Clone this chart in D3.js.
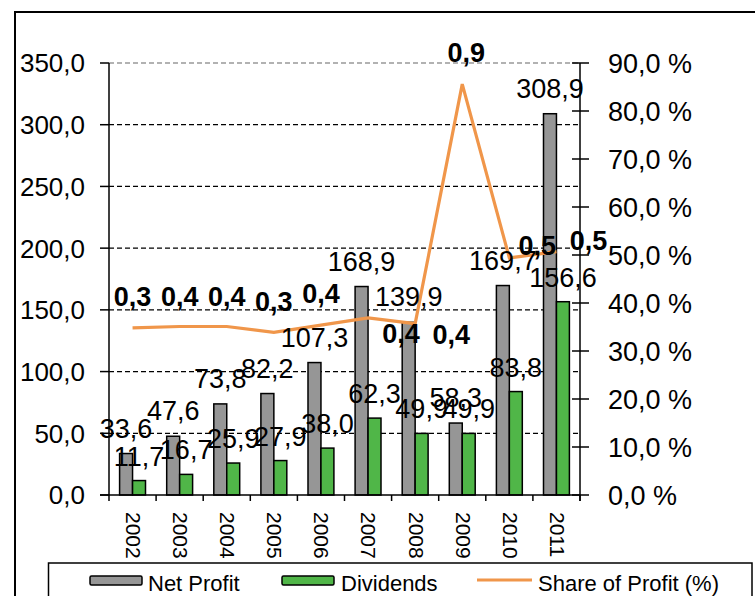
<!DOCTYPE html>
<html>
<head>
<meta charset="utf-8">
<script src="https://cdn.jsdelivr.net/npm/d3@7/dist/d3.min.js"></script>
<style>
  html, body { margin: 0; padding: 0; background: #fff; }
  svg { display: block; }
  text { font-family: "Liberation Sans", Arial, sans-serif; fill: #000; }
</style>
</head>
<body>
<svg id="chart" width="755" height="596"></svg>
<script>
// Annual figures
const years = ["2002", "2003", "2004", "2005", "2006", "2007", "2008", "2009", "2010", "2011"];
const netProfit = [33.6, 47.6, 73.8, 82.2, 107.3, 168.9, 139.9, 58.3, 169.7, 308.9];
const dividends = [11.7, 16.7, 25.9, 27.9, 38.0, 62.3, 49.9, 49.9, 83.8, 156.6];
const shareOfProfit = [0.348, 0.351, 0.351, 0.339, 0.354, 0.369, 0.357, 0.856, 0.494, 0.507];
const leftTicks = [0, 50, 100, 150, 200, 250, 300, 350];
const rightTicks = [0, 0.1, 0.2, 0.3, 0.4, 0.5, 0.6, 0.7, 0.8, 0.9];
const seriesNames = ["Net Profit", "Dividends", "Share of Profit (%)"];

// Nudges for the share labels (dx, dy from the point)
const shareLabelNudge = [
  [0, -22], [0, -21], [0, -21], [0, -21], [0, -22],
  [33, 25], [36, 20], [4, -22], [28, -3], [32, -2]
];

const colors = { net: "#969696", div: "#50b648", share: "#f0964a" };

const locale = d3.formatLocale({ decimal: ",", thousands: " ", grouping: [3], currency: ["", ""] });
const f1 = locale.format(".1f");

const svg = d3.select("#chart");
const plot = { left: 109, right: 580, top: 63, bottom: 495 };

const x0 = d3.scaleBand().domain(years).range([plot.left, plot.right])
  .paddingInner(0.45).paddingOuter(0.225);
const x1 = d3.scaleBand().domain(["net", "div"]).range([0, x0.bandwidth()]);
const yL = d3.scaleLinear().domain([0, 350]).range([plot.bottom, plot.top]);
const yR = d3.scaleLinear().domain([0, 0.9]).range([plot.bottom, plot.top]);
const cx = d => x0(d) + x0.bandwidth() / 2;

// Outer frame
svg.append("path").attr("d", "M15,596 L15,12 L755,12")
  .attr("fill", "none").attr("stroke", "#000").attr("stroke-width", 2);

// Gridlines
svg.append("g").selectAll("line").data(leftTicks.filter(t => t > 0)).join("line")
  .attr("x1", plot.left).attr("x2", plot.right)
  .attr("y1", d => yL(d)).attr("y2", d => yL(d))
  .attr("stroke", d => d === 350 ? "#999" : "#000")
  .attr("stroke-width", 1.3)
  .attr("stroke-dasharray", "5,3");

// Bars
const groups = svg.append("g").selectAll("g").data(years).join("g")
  .attr("transform", d => `translate(${x0(d)},0)`);
groups.append("rect")
  .attr("x", x1("net")).attr("width", x1.bandwidth())
  .attr("y", (d, i) => yL(netProfit[i])).attr("height", (d, i) => yL(0) - yL(netProfit[i]))
  .attr("fill", colors.net).attr("stroke", "#000").attr("stroke-width", 1.5);
groups.append("rect")
  .attr("x", x1("div")).attr("width", x1.bandwidth())
  .attr("y", (d, i) => yL(dividends[i])).attr("height", (d, i) => yL(0) - yL(dividends[i]))
  .attr("fill", colors.div).attr("stroke", "#000").attr("stroke-width", 1.5);

// Left axis
const gL = svg.append("g");
gL.append("line").attr("x1", plot.left).attr("x2", plot.left)
  .attr("y1", yL(350)).attr("y2", yL(0)).attr("stroke", "#000").attr("stroke-width", 1.5);
gL.selectAll("line.t").data(leftTicks).join("line").attr("class", "t")
  .attr("x1", plot.left - 9).attr("x2", plot.left)
  .attr("y1", d => yL(d)).attr("y2", d => yL(d)).attr("stroke", "#000").attr("stroke-width", 1.5);
gL.selectAll("text").data(leftTicks).join("text")
  .attr("x", 85).attr("y", d => yL(d)).attr("dy", "0.36em")
  .attr("text-anchor", "end").attr("font-size", 26)
  .text(d => f1(d));

// Category axis
const gX = svg.append("g");
gX.append("line").attr("x1", plot.left - 9).attr("x2", plot.right)
  .attr("y1", plot.bottom).attr("y2", plot.bottom).attr("stroke", "#000").attr("stroke-width", 1.5);
const bounds = years.map(d => cx(d) - x0.step() / 2).concat([cx(years[years.length - 1]) + x0.step() / 2]);
gX.selectAll("line.t").data(bounds).join("line").attr("class", "t")
  .attr("x1", d => d).attr("x2", d => d)
  .attr("y1", plot.bottom).attr("y2", plot.bottom + 6).attr("stroke", "#000").attr("stroke-width", 1.5);
gX.selectAll("text").data(years).join("text")
  .attr("transform", d => `translate(${cx(d) + 1},512) rotate(90)`)
  .attr("dy", "0.36em").attr("font-size", 21)
  .text(d => d);

// Right axis
const gR = svg.append("g");
gR.append("line").attr("x1", plot.right).attr("x2", plot.right)
  .attr("y1", yR(0.9)).attr("y2", plot.bottom + 6).attr("stroke", "#000").attr("stroke-width", 1.5);
gR.selectAll("line.t").data(rightTicks).join("line").attr("class", "t")
  .attr("x1", plot.right - 8).attr("x2", plot.right + 9)
  .attr("y1", d => yR(d)).attr("y2", d => yR(d)).attr("stroke", "#000").attr("stroke-width", 1.5);
gR.selectAll("text").data(rightTicks).join("text")
  .attr("x", 608).attr("y", d => yR(d)).attr("dy", "0.36em")
  .attr("font-size", 27)
  .text(d => f1(d * 100) + " %");

// Share of profit line
const line = d3.line().x((d, i) => cx(years[i])).y(d => yR(d));
svg.append("path").datum(shareOfProfit)
  .attr("d", line).attr("fill", "none")
  .attr("stroke", colors.share).attr("stroke-width", 3.2).attr("stroke-linejoin", "miter");

// Value labels on bars
svg.append("g").selectAll("text").data(years).join("text")
  .attr("x", d => x0(d) + x1("net") + x1.bandwidth() / 2)
  .attr("y", (d, i) => yL(netProfit[i]) - 16)
  .attr("text-anchor", "middle").attr("font-size", 27)
  .text((d, i) => f1(netProfit[i]));
svg.append("g").selectAll("text").data(years).join("text")
  .attr("x", d => x0(d) + x1("div") + x1.bandwidth() / 2)
  .attr("y", (d, i) => yL(dividends[i]) - 15)
  .attr("text-anchor", "middle").attr("font-size", 27)
  .text((d, i) => f1(dividends[i]));

// Share labels
svg.append("g").selectAll("text").data(years).join("text")
  .attr("x", (d, i) => cx(d) + shareLabelNudge[i][0])
  .attr("y", (d, i) => yR(shareOfProfit[i]) + shareLabelNudge[i][1])
  .attr("text-anchor", "middle").attr("font-size", 27).attr("font-weight", "bold")
  .text((d, i) => f1(shareOfProfit[i]));

// Legend
const lg = svg.append("g");
lg.append("rect").attr("x", 48.5).attr("y", 563).attr("width", 703.5).attr("height", 60)
  .attr("fill", "#fff").attr("stroke", "#000").attr("stroke-width", 1.5);
const legendItems = [
  { name: seriesNames[0], type: "rect", color: colors.net, sx: 90, tx: 148 },
  { name: seriesNames[1], type: "rect", color: colors.div, sx: 282, tx: 341 },
  { name: seriesNames[2], type: "line", color: colors.share, sx: 477, tx: 538 }
];
legendItems.forEach(it => {
  if (it.type === "rect") {
    lg.append("rect").attr("x", it.sx).attr("y", 576).attr("width", 52).attr("height", 9)
      .attr("rx", 1.5).attr("fill", it.color).attr("stroke", "#000").attr("stroke-width", 1.5);
  } else {
    lg.append("line").attr("x1", it.sx).attr("x2", it.sx + 55).attr("y1", 580).attr("y2", 580)
      .attr("stroke", it.color).attr("stroke-width", 3.2);
  }
  lg.append("text").attr("x", it.tx).attr("y", 591).attr("font-size", 22).text(it.name);
});
</script>
</body>
</html>
